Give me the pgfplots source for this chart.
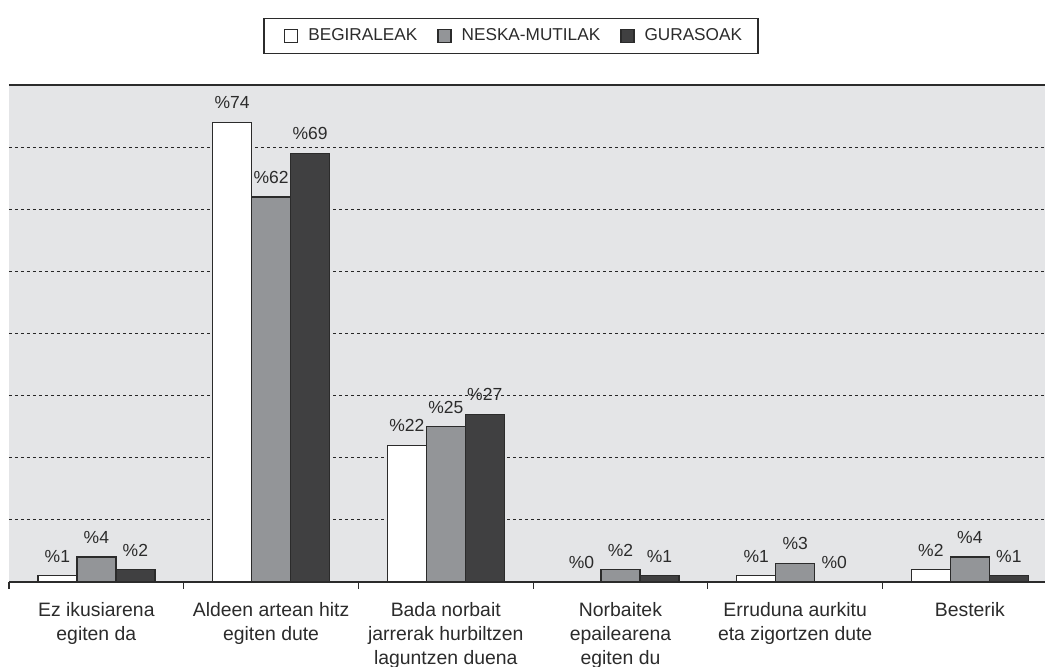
\documentclass[border=0pt]{standalone}
\usepackage{pgfplots}
\pgfplotsset{compat=1.18}
\usepackage{fontspec}
\setmainfont{Liberation Sans}
\definecolor{bg}{HTML}{E4E5E7}
\definecolor{midgray}{HTML}{939598}
\definecolor{darkbar}{HTML}{404041}
\definecolor{txt}{HTML}{2B2B2B}
\begin{document}
\begin{tikzpicture}
\pgfplotsset{sq legend/.style={legend image code/.code={\path (0pt,0pt); \draw[##1, line width=0.6pt] (4pt,-3.25pt) rectangle (10.5pt,3.25pt);}}}
\begin{axis}[
  scale only axis, width=518pt, height=248.5pt,
  xmin=-0.5, xmax=5.43, ymin=0, ymax=80,
  ybar=0pt, bar width=19.5pt,
  separate axis lines,
  x axis line style={draw=txt, line width=0.8pt},
  y axis line style={draw=none},
  axis background/.style={fill=bg},
  ytick={10,20,...,70}, yticklabels={},
  ymajorgrids, grid style={dash pattern=on 1.6pt off 1.4pt, black!85, line width=0.5pt},
  major y tick style={draw=none},
  xtick={0,...,5},
  xticklabels={{Ez ikusiarena\\egiten da},{Aldeen artean hitz\\egiten dute},{Bada norbait\\jarrerak hurbiltzen\\laguntzen duena},{Norbaitek\\epailearena\\egiten du},{Erruduna aurkitu\\eta zigortzen dute},{Besterik}},
  xtick pos=bottom,
  major x tick style={draw=none},
  xticklabel style={align=center, font=\fontsize{9.7}{12}\selectfont, text=txt, yshift=-2.5pt},
  extra x ticks={-0.5,0.5,1.5,2.5,3.5,4.5},
  extra x tick labels={},
  extra x tick style={tick align=outside, major tick length=3.5pt, major x tick style={draw=txt, line width=0.6pt}, grid=none},
  /pgf/number format/assume math mode=true,
  nodes near coords={\%\pgfmathprintnumber{\pgfplotspointmeta}},
  every node near coord/.append style={font=\fontsize{8.75}{10}\selectfont, text=txt, yshift=3pt},
  legend style={at={(axis description cs:0.4846,1.0986)}, anchor=center, legend columns=3,
    draw=txt, line width=0.6pt, font=\fontsize{8.6}{10}\selectfont, text=txt,
    inner xsep=6pt, inner ysep=3pt,
    /tikz/every odd column/.append style={column sep=3pt},
    /tikz/every even column/.append style={column sep=4pt}},
]
\addplot[fill=white, draw=txt, line width=0.7pt, sq legend] coordinates {(0,1) (1,74) (2,22) (3,0) (4,1) (5,2)};
\addplot[fill=midgray, draw=txt, line width=0.7pt, sq legend] coordinates {(0,4) (1,62) (2,25) (3,2) (4,3) (5,4)};
\addplot[fill=darkbar, draw=txt, line width=0.7pt, sq legend] coordinates {(0,2) (1,69) (2,27) (3,1) (4,0) (5,1)};
\legend{BEGIRALEAK, NESKA-MUTILAK, GURASOAK}
\coordinate (bl) at (rel axis cs:0,0);
\coordinate (tr) at (rel axis cs:1,1);
\end{axis}
\pgfresetboundingbox
\path[use as bounding box] ([xshift=-4.5pt,yshift=-42.5pt]bl) rectangle ([yshift=42.5pt]tr);
\end{tikzpicture}
\end{document}
